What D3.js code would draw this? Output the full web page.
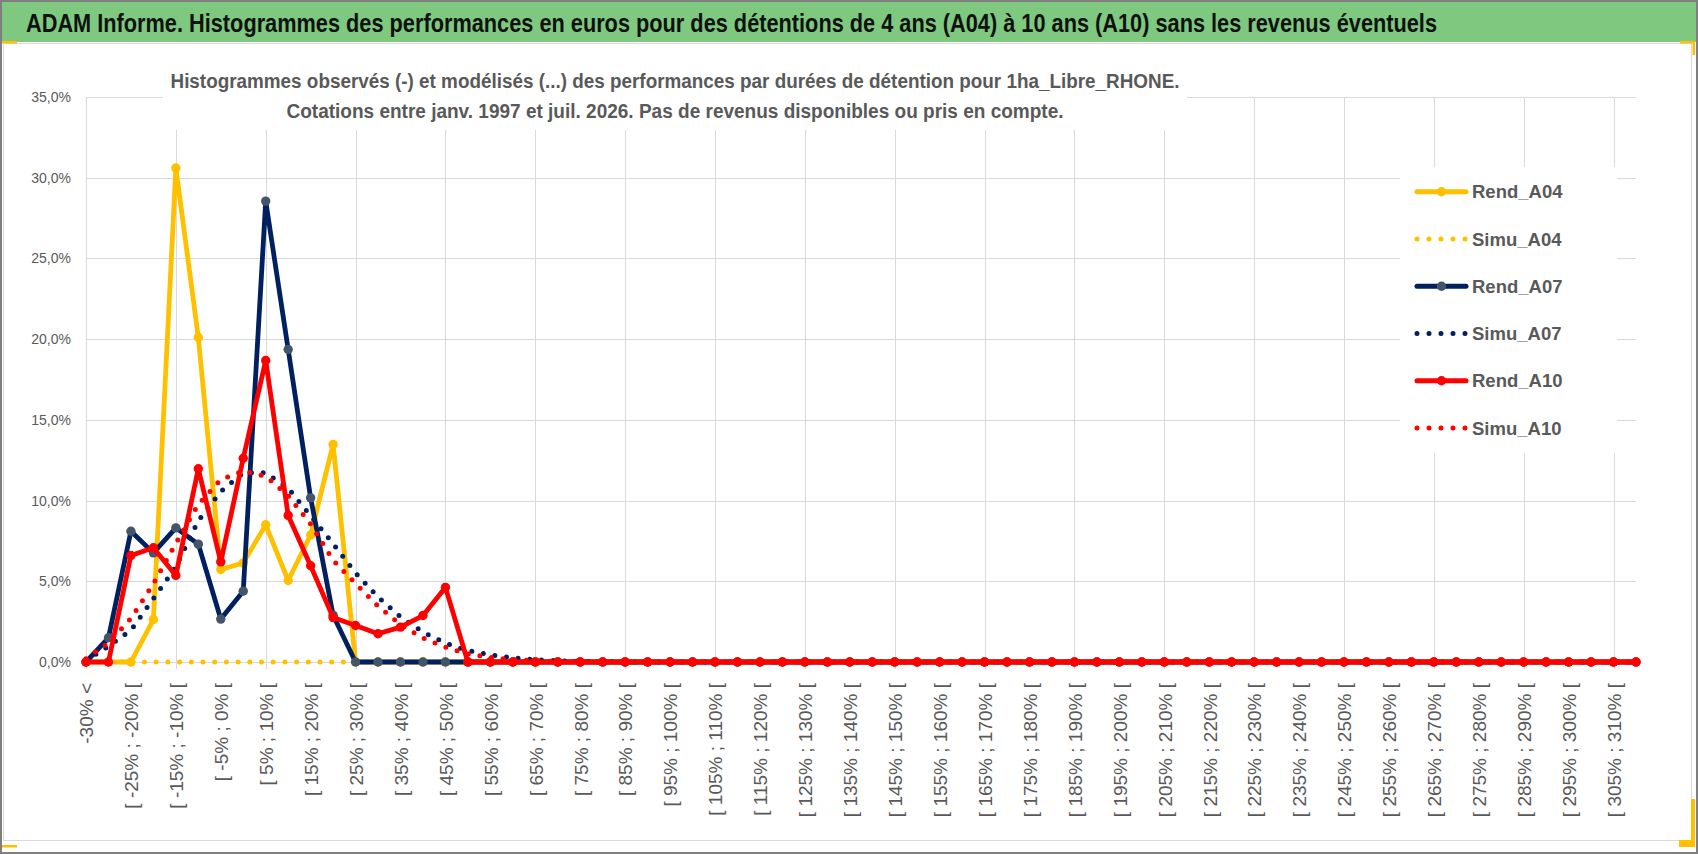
<!DOCTYPE html>
<html>
<head>
<meta charset="utf-8">
<script src="https://cdn.jsdelivr.net/npm/d3@7/dist/d3.min.js"></script>
<style>
  html, body { margin: 0; padding: 0; background: #fff; }
  svg { display: block; }
  .grid line { stroke: #d9d9d9; stroke-width: 1; }
  .lbl { font-family: "Liberation Sans", Arial, sans-serif; fill: #595959; }
</style>
</head>
<body>
<div id="chart"></div>
<script>
  const W = 1698, H = 854;

  const categories = [
    "-30% <",
    "[ -30% ; -25% [", "[ -25% ; -20% [", "[ -20% ; -15% [", "[ -15% ; -10% [", "[ -10% ; -5% [",
    "[ -5% ; 0% [", "[ 0% ; 5% [", "[ 5% ; 10% [", "[ 10% ; 15% [", "[ 15% ; 20% [",
    "[ 20% ; 25% [", "[ 25% ; 30% [", "[ 30% ; 35% [", "[ 35% ; 40% [", "[ 40% ; 45% [",
    "[ 45% ; 50% [", "[ 50% ; 55% [", "[ 55% ; 60% [", "[ 60% ; 65% [", "[ 65% ; 70% [",
    "[ 70% ; 75% [", "[ 75% ; 80% [", "[ 80% ; 85% [", "[ 85% ; 90% [", "[ 90% ; 95% [",
    "[ 95% ; 100% [", "[ 100% ; 105% [", "[ 105% ; 110% [", "[ 110% ; 115% [", "[ 115% ; 120% [",
    "[ 120% ; 125% [", "[ 125% ; 130% [", "[ 130% ; 135% [", "[ 135% ; 140% [", "[ 140% ; 145% [",
    "[ 145% ; 150% [", "[ 150% ; 155% [", "[ 155% ; 160% [", "[ 160% ; 165% [", "[ 165% ; 170% [",
    "[ 170% ; 175% [", "[ 175% ; 180% [", "[ 180% ; 185% [", "[ 185% ; 190% [", "[ 190% ; 195% [",
    "[ 195% ; 200% [", "[ 200% ; 205% [", "[ 205% ; 210% [", "[ 210% ; 215% [", "[ 215% ; 220% [",
    "[ 220% ; 225% [", "[ 225% ; 230% [", "[ 230% ; 235% [", "[ 235% ; 240% [", "[ 240% ; 245% [",
    "[ 245% ; 250% [", "[ 250% ; 255% [", "[ 255% ; 260% [", "[ 260% ; 265% [", "[ 265% ; 270% [",
    "[ 270% ; 275% [", "[ 275% ; 280% [", "[ 280% ; 285% [", "[ 285% ; 290% [", "[ 290% ; 295% [",
    "[ 295% ; 300% [", "[ 300% ; 305% [", "[ 305% ; 310% [", "[ 310% ; 315% ["
  ];

  // values in %
  const rendA04 = [
    0, 0, 0, 2.63, 30.6, 20.1, 5.73, 6.14, 8.5, 5.05,
    7.87, 13.48, 0, 0, 0, 0, 0, 0, 0, 0,
    0, 0, 0, 0, 0, 0, 0, 0, 0, 0,
    0, 0, 0, 0, 0, 0, 0, 0, 0, 0,
    0, 0, 0, 0, 0, 0, 0, 0, 0, 0,
    0, 0, 0, 0, 0, 0, 0, 0, 0, 0,
    0, 0, 0, 0, 0, 0, 0, 0, 0, 0
  ];
  const simuA04 = [
    0, 0, 0, 0, 0, 0, 0, 0, 0, 0,
    0, 0, 0, 0, 0, 0, 0, 0, 0, 0,
    0, 0, 0, 0, 0, 0, 0, 0, 0, 0,
    0, 0, 0, 0, 0, 0, 0, 0, 0, 0,
    0, 0, 0, 0, 0, 0, 0, 0, 0, 0,
    0, 0, 0, 0, 0, 0, 0, 0, 0, 0,
    0, 0, 0, 0, 0, 0, 0, 0, 0, 0
  ];
  const rendA07 = [
    0, 1.5, 8.1, 6.76, 8.31, 7.3, 2.66, 4.39, 28.55, 19.36,
    10.17, 2.9, 0, 0, 0, 0, 0, 0, 0, 0,
    0, 0, 0, 0, 0, 0, 0, 0, 0, 0,
    0, 0, 0, 0, 0, 0, 0, 0, 0, 0,
    0, 0, 0, 0, 0, 0, 0, 0, 0, 0,
    0, 0, 0, 0, 0, 0, 0, 0, 0, 0,
    0, 0, 0, 0, 0, 0, 0, 0, 0, 0
  ];
  const simuA07 = [
    0.1, 0.98, 1.97, 3.92, 5.9, 8.75, 10.56, 11.72, 11.72, 10.76,
    9.06, 7.32, 5.52, 4.02, 2.8, 1.85, 1.17, 0.71, 0.44, 0.26,
    0.15, 0.08, 0.04, 0.02, 0, 0, 0, 0, 0, 0,
    0, 0, 0, 0, 0, 0, 0, 0, 0, 0,
    0, 0, 0, 0, 0, 0, 0, 0, 0, 0,
    0, 0, 0, 0, 0, 0, 0, 0, 0, 0,
    0, 0, 0, 0, 0, 0, 0, 0, 0, 0
  ];
  const rendA10 = [
    0, 0, 6.6, 7.08, 5.36, 11.97, 6.2, 12.62, 18.68, 9.08,
    5.96, 2.75, 2.26, 1.75, 2.16, 2.88, 4.62, 0, 0, 0,
    0, 0, 0, 0, 0, 0, 0, 0, 0, 0,
    0, 0, 0, 0, 0, 0, 0, 0, 0, 0,
    0, 0, 0, 0, 0, 0, 0, 0, 0, 0,
    0, 0, 0, 0, 0, 0, 0, 0, 0, 0,
    0, 0, 0, 0, 0, 0, 0, 0, 0, 0
  ];
  const simuA10 = [
    0.2, 1.19, 2.7, 4.85, 7.35, 9.76, 11.3, 11.83, 11.51, 10.3,
    8.55, 6.3, 4.86, 3.46, 2.32, 1.48, 0.92, 0.5, 0.28, 0.15,
    0.08, 0.04, 0.02, 0, 0, 0, 0, 0, 0, 0,
    0, 0, 0, 0, 0, 0, 0, 0, 0, 0,
    0, 0, 0, 0, 0, 0, 0, 0, 0, 0,
    0, 0, 0, 0, 0, 0, 0, 0, 0, 0,
    0, 0, 0, 0, 0, 0, 0, 0, 0, 0
  ];

  const yTicks = [0, 5, 10, 15, 20, 25, 30, 35];
  const seriesNames = ["Rend_A04", "Simu_A04", "Rend_A07", "Simu_A07", "Rend_A10", "Simu_A10"];

  const mainTitle = "ADAM Informe. Histogrammes des performances en euros pour des détentions de 4 ans (A04) à 10 ans (A10) sans les revenus éventuels";
  const subTitle = [
    "Histogrammes observés (-) et modélisés (...) des performances par durées de détention pour 1ha_Libre_RHONE.",
    "Cotations entre janv. 1997 et juil. 2026. Pas de revenus disponibles ou pris en compte."
  ];

  const series = [
    {name: seriesNames[0], values: rendA04, color: "#FFC000", marker: "#FFC000", dotted: false},
    {name: seriesNames[1], values: simuA04, color: "#FFC000", dotted: true},
    {name: seriesNames[2], values: rendA07, color: "#002060", marker: "#44546A", dotted: false},
    {name: seriesNames[3], values: simuA07, color: "#002060", dotted: true},
    {name: seriesNames[4], values: rendA10, color: "#FF0000", marker: "#FF0000", dotted: false},
    {name: seriesNames[5], values: simuA10, color: "#FF0000", dotted: true}
  ];

  const plot = {left: 86, right: 1636, top: 97, bottom: 662};

  const svg = d3.select("#chart").append("svg")
    .attr("width", W)
    .attr("height", H);

  // frame
  svg.append("rect").attr("x", 1).attr("y", 1).attr("width", W - 2).attr("height", H - 2)
    .attr("fill", "#fff").attr("stroke", "#7f7f7f").attr("stroke-width", 2);
  svg.append("rect").attr("x", 3.5).attr("y", 43.5).attr("width", 1688).attr("height", 797)
    .attr("fill", "none").attr("stroke", "#d9d9d9");
  svg.append("rect").attr("x", 2).attr("y", 2).attr("width", W - 4).attr("height", 40)
    .attr("fill", "#7ec97f");

  // yellow corner handles
  const handles = svg.append("g").attr("fill", "#FFC000");
  handles.append("rect").attr("x", 2).attr("y", 41).attr("width", 15).attr("height", 2.5);
  handles.append("rect").attr("x", 1680).attr("y", 41).attr("width", 15).attr("height", 2.5);
  handles.append("rect").attr("x", 1692.5).attr("y", 41).attr("width", 2.5).attr("height", 14);
  handles.append("rect").attr("x", 2).attr("y", 845).attr("width", 15).attr("height", 2.5);
  handles.append("rect").attr("x", 1691).attr("y", 799).attr("width", 4).attr("height", 48);
  handles.append("rect").attr("x", 1679).attr("y", 840).attr("width", 16).attr("height", 7);

  svg.append("text")
    .attr("x", 26).attr("y", 32)
    .attr("textLength", 1411).attr("lengthAdjust", "spacingAndGlyphs")
    .style("font-family", "'Liberation Sans', Arial, sans-serif")
    .style("font-size", "25px").style("font-weight", "bold").style("fill", "#111")
    .text(mainTitle);

  const x = d3.scalePoint()
    .domain(categories)
    .range([plot.left, plot.right]);

  const y = d3.scaleLinear()
    .domain([0, 35])
    .range([plot.bottom, plot.top]);

  // horizontal gridlines
  svg.append("g")
    .attr("class", "grid")
    .selectAll("line")
    .data(yTicks)
    .join("line")
    .attr("x1", plot.left).attr("x2", plot.right)
    .attr("y1", d => Math.round(y(d)) + 0.5).attr("y2", d => Math.round(y(d)) + 0.5);

  // vertical gridlines, every 4 categories, running a bit under the axis
  svg.append("g")
    .attr("class", "grid")
    .selectAll("line")
    .data(categories.filter((d, i) => i % 4 === 0))
    .join("line")
    .attr("x1", d => Math.round(x(d)) + 0.5).attr("x2", d => Math.round(x(d)) + 0.5)
    .attr("y1", plot.top).attr("y2", plot.bottom + 7);

  // y axis labels
  const yAxis = d3.axisLeft(y)
    .tickValues(yTicks)
    .tickSize(0)
    .tickPadding(15)
    .tickFormat(d => d3.format(".1f")(d).replace(".", ",") + "%");
  const gy = svg.append("g")
    .attr("transform", "translate(" + plot.left + ",0)")
    .call(yAxis);
  gy.select(".domain").remove();
  gy.selectAll("text")
    .attr("class", "lbl")
    .style("font-size", "14px");

  // x axis labels (every other category)
  const xAxis = d3.axisBottom(x)
    .tickValues(categories.filter((d, i) => i % 2 === 0))
    .tickSize(0);
  const gx = svg.append("g")
    .attr("transform", "translate(0," + plot.bottom + ")")
    .call(xAxis);
  gx.select(".domain").remove();
  gx.selectAll("text")
    .attr("class", "lbl")
    .style("font-size", "19px")
    .attr("transform", "rotate(-90)")
    .attr("text-anchor", "end")
    .attr("x", -21)
    .attr("y", 0)
    .attr("dy", "0.36em");

  // title box over the plot
  svg.append("rect")
    .attr("x", 163).attr("y", 58).attr("width", 1024).attr("height", 72)
    .attr("fill", "#fff");
  svg.append("g")
    .selectAll("text")
    .data(subTitle)
    .join("text")
    .attr("x", 675)
    .attr("y", (d, i) => 88 + i * 30)
    .attr("text-anchor", "middle")
    .attr("textLength", (d, i) => i === 0 ? 1009 : 777)
    .attr("lengthAdjust", "spacingAndGlyphs")
    .style("font-family", "'Liberation Sans', Arial, sans-serif")
    .style("font-size", "20px").style("font-weight", "bold").style("fill", "#595959")
    .text(d => d);

  const line = d3.line()
    .x((d, i) => x(categories[i]))
    .y(d => y(d));

  const dotDash = "0 11.7";

  series.forEach(function (s) {
    const g = svg.append("g").attr("class", "series");
    g.append("path")
      .attr("d", line(s.values))
      .attr("fill", "none")
      .attr("stroke", s.color)
      .attr("stroke-width", s.dotted ? 5 : 4.8)
      .attr("stroke-linejoin", "round")
      .attr("stroke-linecap", "round")
      .attr("stroke-dasharray", s.dotted ? dotDash : null);
    if (!s.dotted) {
      g.selectAll("circle")
        .data(s.values)
        .join("circle")
        .attr("cx", (d, i) => x(categories[i]))
        .attr("cy", d => y(d))
        .attr("r", 4.7)
        .attr("fill", s.marker);
    }
  });

  // legend
  const legend = svg.append("g");
  legend.append("rect")
    .attr("x", 1400).attr("y", 167).attr("width", 217).attr("height", 286)
    .attr("fill", "#fff");
  const rowY = d3.scalePoint().domain(seriesNames).range([191.7, 428]);
  const item = legend.selectAll("g.item")
    .data(series)
    .join("g")
    .attr("class", "item")
    .attr("transform", d => "translate(0," + rowY(d.name) + ")");
  item.append("line")
    .attr("x1", 1417).attr("x2", 1466)
    .attr("stroke", d => d.color)
    .attr("stroke-width", 5)
    .attr("stroke-linecap", "round")
    .attr("stroke-dasharray", d => d.dotted ? "0 12" : null);
  item.filter(d => !d.dotted).append("circle")
    .attr("cx", 1441.5).attr("r", 4.7)
    .attr("fill", d => d.marker);
  item.append("text")
    .attr("class", "lbl")
    .attr("x", 1472)
    .attr("dy", "0.36em")
    .style("font-size", "18.5px").style("font-weight", "bold")
    .text(d => d.name);
</script>
</body>
</html>
